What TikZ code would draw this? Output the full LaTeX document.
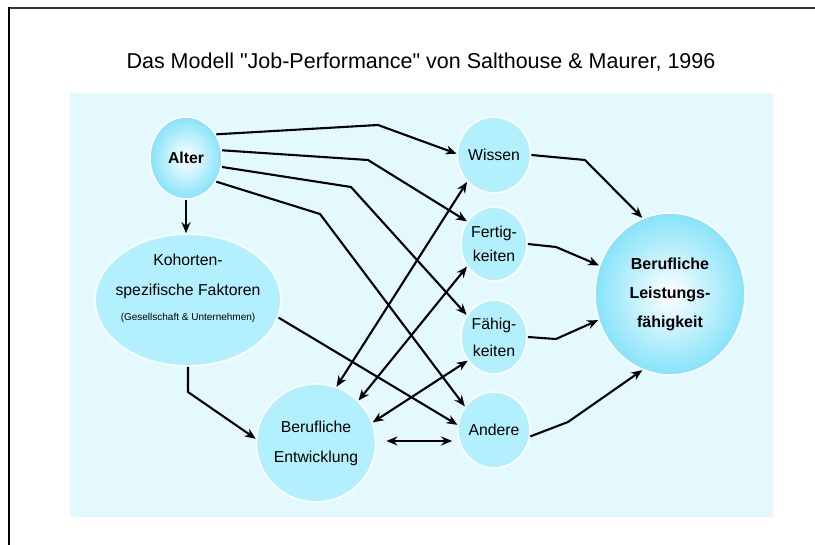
\documentclass[tikz,border=0pt]{standalone}
\usepackage{fontspec}
\setmainfont{Liberation Sans}
% same family without the TeX quote mapping, so " stays a straight quote
\newfontfamily\plainsans{Liberation Sans}
\usetikzlibrary{shapes.geometric,arrows.meta,calc}

\definecolor{panelblue}{HTML}{E4F9FE}
\definecolor{bubbleblue}{HTML}{B3F0FD}
\definecolor{glowblue}{HTML}{86E3F9}

\tikzset{
  bubble/.style={ellipse, fill=bubbleblue, draw=white, line width=1.6pt,
    inner sep=0pt, align=center, font=\fontsize{15.8}{30}\selectfont},
  glowbubble/.style={bubble, inner color=white, outer color=glowblue},
  tip/.tip={Stealth[length=11pt,width=9pt]},
  link/.style={line width=2.1pt, line join=round, -tip},
  duallink/.style={link, tip-tip},
}

\begin{document}
\begin{tikzpicture}[x=1pt,y=-1pt]
  \useasboundingbox (0,0) rectangle (815,545);

  % outer frame (left and top edges)
  \draw[line width=1.4pt, black!80] (9,8) -- (815,8);
  \draw[line width=2.6pt] (9,7.5) -- (9,545);

  % title
  \node[font=\plainsans\fontsize{21.5}{24}\selectfont] (title) at (421,62)
    {Das Modell "Job-Performance" von Salthouse \& Maurer, 1996};

  % background panel
  \fill[panelblue] (70,93) rectangle (773,517);

  % nodes
  \node[glowbubble, minimum width=72pt, minimum height=82pt] (alter) at (186,158)
    {\bfseries Alter};
  \node[bubble, minimum width=186pt, minimum height=132pt] (koh) at (188,300) {};
  \node[align=center, font=\fontsize{15.8}{30}\selectfont, inner sep=0pt] (kohtext) at (188,288)
    {Kohorten-\\spezifische Faktoren\\[-5pt]{\fontsize{10}{12}\selectfont (Gesellschaft \& Unternehmen)}};
  \node[bubble, minimum width=108pt, minimum height=118pt] (entw) at (316,443)
    {Berufliche\\Entwicklung};
  \node[bubble, minimum width=66pt, minimum height=76pt] (wissen) at (494,155)
    {Wissen};
  \node[bubble, minimum width=66pt, minimum height=74pt,
        font=\fontsize{15.8}{24}\selectfont] (fertig) at (494,244)
    {Fertig-\\keiten};
  \node[bubble, minimum width=66pt, minimum height=74pt,
        font=\fontsize{15.8}{27}\selectfont] (faehig) at (494,337)
    {Fähig-\\keiten};
  \node[bubble, minimum width=68pt, minimum height=76pt] (andere) at (494,430)
    {Andere};
  \node[glowbubble, minimum width=150pt, minimum height=162pt,
        font=\fontsize{16}{29}\selectfont\bfseries] (leist) at (670,294)
    {Berufliche\\Leistungs-\\fähigkeit};

  % bend points
  \coordinate (bw) at (378,125);
  \coordinate (bf) at (368,160);
  \coordinate (bh) at (351,187);
  \coordinate (ba) at (320,214);
  \coordinate (bk) at (188,392);
  \coordinate (lw) at (585,160);
  \coordinate (lf) at (556,247);
  \coordinate (lh) at (556,339);
  \coordinate (la) at (568,422);

  % Alter to its targets
  \draw[link] (alter.south) -- (alter.south |- koh.north);
  \draw[link] (alter.38) -- (bw) -- (wissen.178);
  \draw[link] (alter.12) -- (bf) -- (fertig.140);
  \draw[link] (alter.-14) -- (bh) -- (faehig.141);
  \draw[link] (alter.-38) -- (ba) -- (andere.141);

  % Kohorten factors
  \draw[link] (koh.south) -- (bk) -- (entw.176);
  \draw[link] (koh.-11) -- (andere.172);

  % career development, both ways
  \draw[duallink] (entw.70) -- (wissen.225);
  \draw[duallink] (entw.45) -- (fertig.220);
  \draw[duallink] (entw.20) -- (faehig.222);
  \draw[duallink] ($(entw.east)+(10,-2)$) -- ($(andere.west)+(-5,11)$);

  % into job performance
  \draw[link] (wissen.east) -- (lw) -- (leist.110);
  \draw[link] (fertig.east) -- (lf) -- (leist.158);
  \draw[link] (faehig.east) -- (lh) -- (leist.200);
  \draw[link] (andere.-10) -- (la) -- (leist.250);
\end{tikzpicture}
\end{document}
